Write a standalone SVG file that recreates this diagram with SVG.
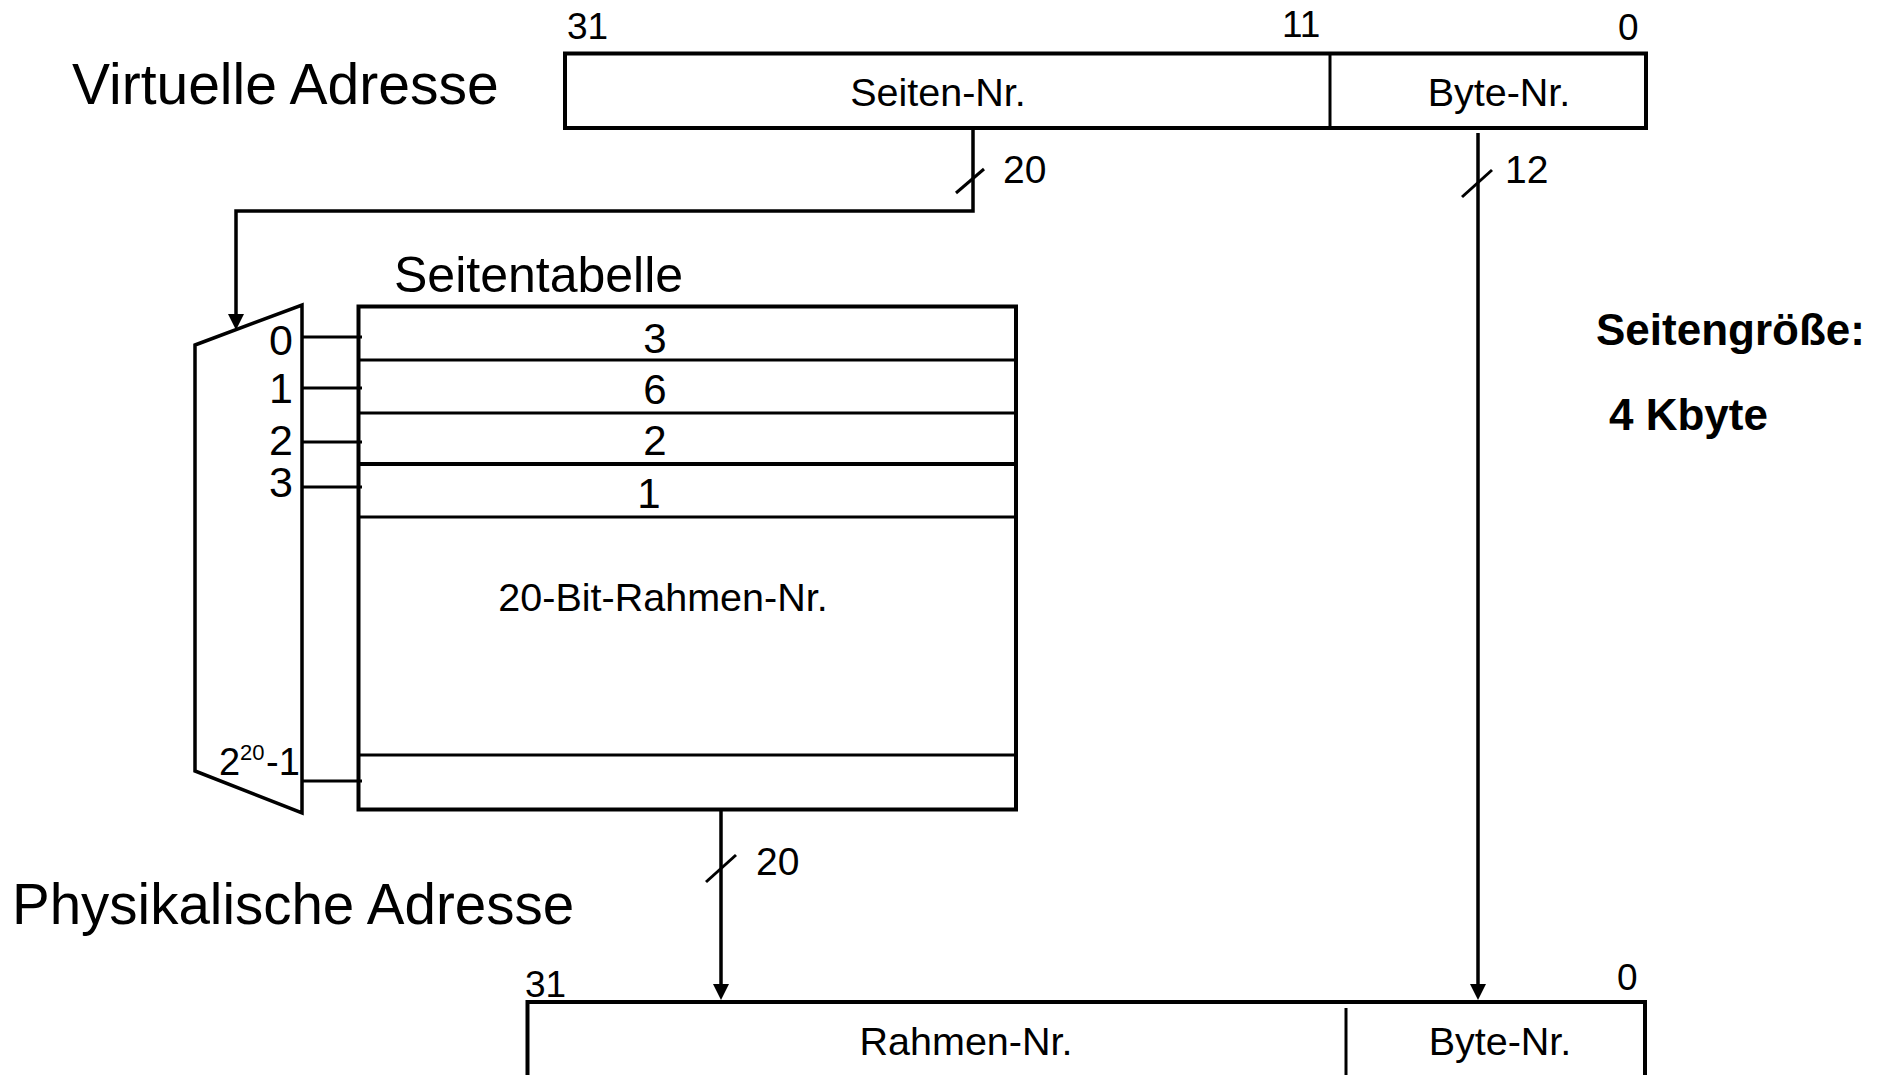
<svg xmlns="http://www.w3.org/2000/svg" width="1885" height="1075" viewBox="0 0 1885 1075">
<defs>
<style>
text{font-family:"Liberation Sans",Arial,sans-serif;fill:#000}
.big{font-size:57px}
.mid{font-size:39.5px}
.num{font-size:37px}
.lbl{font-size:39px}
.idx{font-size:43px;text-anchor:middle}
.bold{font-size:44px;font-weight:bold}
.c{text-anchor:middle}
.box{fill:none;stroke:#000;stroke-width:4}
.thin{fill:none;stroke:#000;stroke-width:3}
.row{stroke:#000;stroke-width:3}
.wire{fill:none;stroke:#000;stroke-width:3.5}
</style>
<marker id="arr" markerUnits="userSpaceOnUse" markerWidth="16" markerHeight="16" refX="8" refY="8" orient="auto">
<path d="M0,0 L16,8 L0,16 z" fill="#000"/>
</marker>
</defs>
<rect width="1885" height="1075" fill="#fff"/>

<g id="virtual-address">
<text class="big" x="72" y="104">Virtuelle Adresse</text>
<rect class="box" x="565" y="53.5" width="1081" height="74.5"/>
<line class="thin" x1="1330" y1="53" x2="1330" y2="128"/>
<text class="num" x="567" y="39">31</text>
<text class="num" x="1282" y="37">11</text>
<text class="num" x="1618" y="39.5">0</text>
<text class="mid c" x="938" y="106">Seiten-Nr.</text>
<text class="mid c" x="1499" y="106">Byte-Nr.</text>
</g>

<g id="mux">
<polygon class="wire" points="195,345 302,305 302,813 195,771"/>
<text class="idx" x="281" y="355">0</text>
<text class="idx" x="281" y="403">1</text>
<text class="idx" x="281" y="455">2</text>
<text class="idx" x="281" y="497">3</text>
<text style="font-size:38px" x="219" y="775">2</text>
<text style="font-size:22px" x="240" y="760">20</text>
<text style="font-size:38px" x="266" y="775">-1</text>
<line class="row" x1="302" y1="337" x2="362" y2="337"/>
<line class="row" x1="302" y1="388" x2="362" y2="388"/>
<line class="row" x1="302" y1="442" x2="362" y2="442"/>
<line class="row" x1="302" y1="487" x2="362" y2="487"/>
<line class="row" x1="302" y1="781" x2="362" y2="781"/>
</g>

<g id="page-table">
<text x="394" y="292" style="font-size:50px">Seitentabelle</text>
<rect class="box" x="358.5" y="306.5" width="657.5" height="503"/>
<line class="row" x1="358" y1="360" x2="1016" y2="360"/>
<line class="row" x1="358" y1="413" x2="1016" y2="413"/>
<line class="row" x1="358" y1="464" x2="1016" y2="464" style="stroke-width:4"/>
<line class="row" x1="358" y1="517" x2="1016" y2="517"/>
<line class="row" x1="358" y1="755" x2="1016" y2="755"/>
<text class="idx" x="655" y="352.5" style="font-size:42px">3</text>
<text class="idx" x="655" y="404" style="font-size:42px">6</text>
<text class="idx" x="655" y="455" style="font-size:42px">2</text>
<text class="idx" x="649" y="508" style="font-size:42px">1</text>
<text class="mid c" x="663" y="611">20-Bit-Rahmen-Nr.</text>
</g>

<g id="page-size">
<text class="bold" x="1596" y="345">Seitengröße:</text>
<text class="bold" x="1609" y="430">4 Kbyte</text>
</g>

<g id="physical-address">
<text x="12" y="924" style="font-size:56.5px">Physikalische Adresse</text>
<path class="box" d="M527.5,1080 V1002 H1645 V1080"/>
<line class="thin" x1="1346" y1="1008" x2="1346" y2="1080"/>
<text class="num" x="525" y="997">31</text>
<text class="num" x="1617" y="990">0</text>
<text class="mid c" x="966" y="1055">Rahmen-Nr.</text>
<text class="mid c" x="1500" y="1055">Byte-Nr.</text>
</g>

<g id="connectors">
<path class="wire" d="M973,128 V211 H236 V322" marker-end="url(#arr)"/>
<line class="thin" x1="956" y1="193" x2="984" y2="169"/>
<text class="lbl" x="1003" y="183">20</text>
<line class="wire" x1="1478" y1="133" x2="1478" y2="992" marker-end="url(#arr)"/>
<line class="thin" x1="1462" y1="197" x2="1492" y2="170"/>
<text class="lbl" x="1505" y="183">12</text>
<line class="wire" x1="721" y1="810" x2="721" y2="992" marker-end="url(#arr)"/>
<line class="thin" x1="706" y1="882" x2="736" y2="855"/>
<text class="lbl" x="756" y="875">20</text>
</g>
</svg>
